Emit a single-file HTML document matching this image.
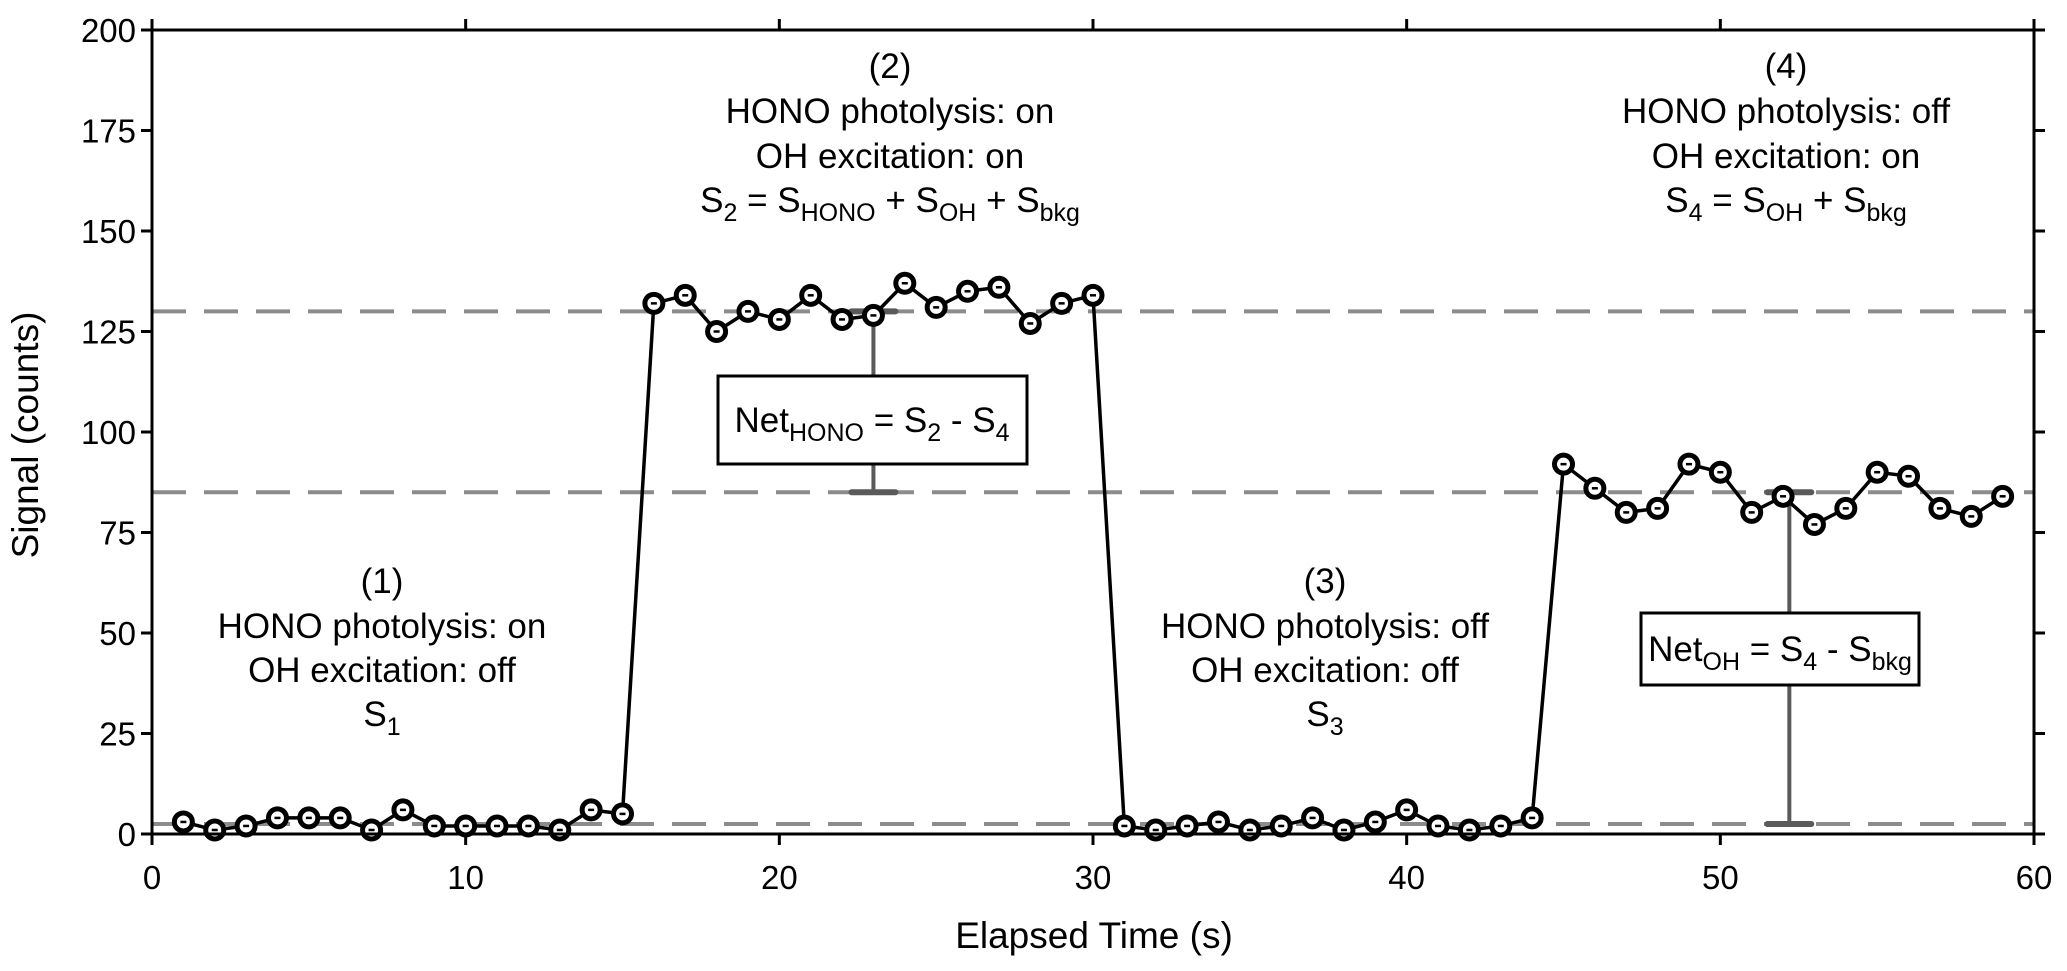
<!DOCTYPE html>
<html><head><meta charset="utf-8"><style>
body{margin:0;background:#fff}
svg{display:block}
text{font-family:"Liberation Sans",Arial,sans-serif;fill:#000}
</style></head><body>
<svg id="chart" width="2067" height="971" viewBox="0 0 2067 971" xmlns="http://www.w3.org/2000/svg"></svg>
<script>
const seg1 = [3,1,2,4,4,4,1,6,2,2,2,2,1,6,5];
const seg2 = [132,134,125,130,128,134,128,129,137,131,135,136,127,132,134];
const seg3 = [2,1,2,3,1,2,4,1,3,6,2,1,2,4];
const seg4 = [92,86,80,81,92,90,80,84,77,81,90,89,81,79,84];
const refLevels = [130,85,2.5];
const xTicks = [0,10,20,30,40,50,60];
const yTicks = [0,25,50,75,100,125,150,175,200];
const X0=152,X1=2034,Y0=834,Y1=30;
const xs=v=>X0+(v/60)*(X1-X0);
const ys=v=>Y0-(v/200)*(Y0-Y1);
const svg=document.getElementById('chart');
const NS='http://www.w3.org/2000/svg';
function mk(tag,attrs,parent){const e=document.createElementNS(NS,tag);for(const k in attrs)e.setAttribute(k,attrs[k]);(parent||svg).appendChild(e);return e;}
refLevels.forEach((v,i)=>{const l=mk('line',{x1:X0,x2:X1,y1:ys(v),y2:ys(v),stroke:'#8c8c8c','stroke-width':4,'stroke-dasharray':'34 18'});

});
function bar(x,hi,lo,gapTop,gapBot,name){
 const g=mk('g',{stroke:'#5a5a5a','stroke-width':4});
 
 
 mk('line',{x1:xs(x),x2:xs(x),y1:ys(hi),y2:gapTop},g);
 mk('line',{x1:xs(x),x2:xs(x),y1:gapBot,y2:ys(lo)},g);
 mk('line',{x1:xs(x-0.7),x2:xs(x+0.7),y1:ys(hi),y2:ys(hi),'stroke-width':6,'stroke-linecap':'round'},g);
 mk('line',{x1:xs(x-0.7),x2:xs(x+0.7),y1:ys(lo),y2:ys(lo),'stroke-width':6,'stroke-linecap':'round'},g);
}
bar(23,refLevels[0],refLevels[1],376,464,'net-hono-bar');
bar(52.2,refLevels[1],refLevels[2],613,685,'net-oh-bar');
const all=[].concat(seg1,seg2,seg3,seg4);
const pts=all.map((v,i)=>[xs(i+1),ys(v)]);
const pl=mk('polyline',{points:pts.map(p=>p.join(',')).join(' '),fill:'none',stroke:'#000','stroke-width':3.5});


pts.forEach((p,i)=>{const c=mk('circle',{cx:p[0],cy:p[1],r:9,fill:'#fff',stroke:'#000','stroke-width':5});


mk('line',{x1:p[0]-3,x2:p[0]+3,y1:p[1],y2:p[1],stroke:'#000','stroke-width':2.5});});
const fr=mk('rect',{x:X0,y:Y1,width:X1-X0,height:Y0-Y1,fill:'none',stroke:'#000','stroke-width':3});


xTicks.forEach(t=>{
 mk('line',{x1:xs(t),x2:xs(t),y1:Y0,y2:Y0+11,stroke:'#000','stroke-width':3});
 mk('line',{x1:xs(t),x2:xs(t),y1:Y1,y2:Y1-11,stroke:'#000','stroke-width':3});
 const tx=mk('text',{x:xs(t),y:889,'font-size':33,'text-anchor':'middle'});tx.textContent=t;
 
 
});
yTicks.forEach(t=>{
 mk('line',{x1:X0,x2:X0-11,y1:ys(t),y2:ys(t),stroke:'#000','stroke-width':3});
 mk('line',{x1:X1,x2:X1+11,y1:ys(t),y2:ys(t),stroke:'#000','stroke-width':3});
 const tx=mk('text',{x:136,y:ys(t)+12,'font-size':33,'text-anchor':'end'});tx.textContent=t;
 
 
});
</script>
<svg style="position:absolute;left:0;top:0" width="2067" height="971" xmlns="http://www.w3.org/2000/svg">
<g font-family="Liberation Sans, Arial, sans-serif" font-size="35" text-anchor="middle">
<text x="1094" y="948" font-size="37">Elapsed Time (s)</text>
<text transform="translate(38,435) rotate(-90)" font-size="37">Signal (counts)</text>
<g>
<text x="382" y="593">(1)</text><text x="382" y="638">HONO photolysis: on</text><text x="382" y="682">OH excitation: off</text><text x="382" y="726">S<tspan font-size="25" dy="9">1</tspan></text></g>
<g>
<text x="890" y="78">(2)</text><text x="890" y="123">HONO photolysis: on</text><text x="890" y="168">OH excitation: on</text><text x="890" y="212">S<tspan font-size="25" dy="9">2</tspan><tspan dy="-9"> = S</tspan><tspan font-size="25" dy="9">HONO</tspan><tspan dy="-9"> + S</tspan><tspan font-size="25" dy="9">OH</tspan><tspan dy="-9"> + S</tspan><tspan font-size="25" dy="9">bkg</tspan></text></g>
<g>
<text x="1325" y="593">(3)</text><text x="1325" y="638">HONO photolysis: off</text><text x="1325" y="682">OH excitation: off</text><text x="1325" y="726">S<tspan font-size="25" dy="9">3</tspan></text></g>
<g>
<text x="1786" y="78">(4)</text><text x="1786" y="123">HONO photolysis: off</text><text x="1786" y="168">OH excitation: on</text><text x="1786" y="212">S<tspan font-size="25" dy="9">4</tspan><tspan dy="-9"> = S</tspan><tspan font-size="25" dy="9">OH</tspan><tspan dy="-9">  + S</tspan><tspan font-size="25" dy="9">bkg</tspan></text></g>
<g>
<rect x="718" y="376" width="309" height="88" fill="#fff" stroke="#000" stroke-width="3"/>
<text x="872" y="432">Net<tspan font-size="25" dy="9">HONO</tspan><tspan dy="-9"> = S</tspan><tspan font-size="25" dy="9">2</tspan><tspan dy="-9"> - S</tspan><tspan font-size="25" dy="9">4</tspan></text></g>
<g>
<rect x="1641" y="613" width="278" height="72" fill="#fff" stroke="#000" stroke-width="3"/>
<text x="1780" y="661">Net<tspan font-size="25" dy="9">OH</tspan><tspan dy="-9"> = S</tspan><tspan font-size="25" dy="9">4</tspan><tspan dy="-9"> - S</tspan><tspan font-size="25" dy="9">bkg</tspan></text></g>
</g></svg>
</body></html>
